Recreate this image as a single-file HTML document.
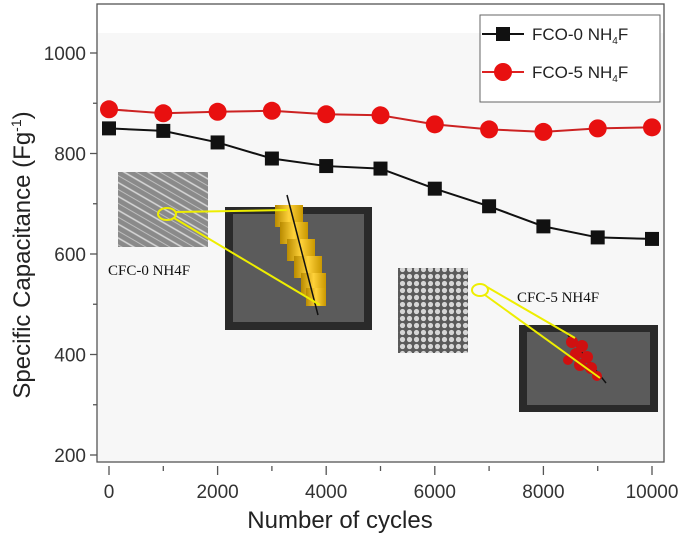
<!DOCTYPE html>
<html><head><meta charset="utf-8"><style>
body{margin:0;background:#fff;}
svg{display:block;font-family:"Liberation Sans",sans-serif;}
</style></head><body>
<svg id="c" width="685" height="534" viewBox="0 0 685 534">
<defs>
<pattern id="fib" width="12" height="12" patternUnits="userSpaceOnUse" patternTransform="rotate(30)">
<rect width="12" height="12" fill="#8a8a8a"/><line x1="0" y1="3" x2="12" y2="3" stroke="#d8d8d8" stroke-width="1.5"/><line x1="0" y1="9" x2="12" y2="9" stroke="#bdbdbd" stroke-width="1"/>
</pattern>
<pattern id="par" width="7" height="7" patternUnits="userSpaceOnUse">
<rect width="7" height="7" fill="#5a5a5a"/><circle cx="3.5" cy="3.5" r="2.6" fill="#d6d6d6"/>
</pattern>
<linearGradient id="gold" x1="0" x2="1"><stop offset="0" stop-color="#b88a00"/><stop offset=".5" stop-color="#ffd23a"/><stop offset="1" stop-color="#c99700"/></linearGradient>
</defs>
<rect x="97" y="33" width="567" height="429" fill="#f7f7f7"/>
<rect x="97" y="4" width="567" height="458" fill="none" stroke="#555" stroke-width="1.3"/>
<g id="axes"></g>
<g id="insets">
<rect x="118" y="172" width="90" height="75" fill="url(#fib)"/>
<polygon points="225,207 372,207 372,330 225,330" fill="#2a2a2a"/>
<polygon points="233,214 364,214 364,322 233,322" fill="#5b5b5b"/>
<g>
<rect x="275" y="205" width="28" height="22" fill="url(#gold)"/><rect x="280" y="222" width="28" height="22" fill="url(#gold)"/><rect x="287" y="239" width="28" height="22" fill="url(#gold)"/><rect x="294" y="256" width="28" height="22" fill="url(#gold)"/><rect x="301" y="273" width="25" height="22" fill="url(#gold)"/><rect x="306" y="288" width="20" height="18" fill="url(#gold)"/>
</g>
<line x1="287" y1="195" x2="318" y2="315" stroke="#111" stroke-width="1.5"/>
<ellipse cx="167" cy="214" rx="9" ry="6" fill="none" stroke="#ee0" stroke-width="2"/>
<line x1="176" y1="212" x2="287" y2="210" stroke="#ee0" stroke-width="2"/><line x1="174" y1="218" x2="320" y2="305" stroke="#ee0" stroke-width="2"/>
<text x="108" y="275" font-family="Liberation Serif,serif" font-size="15" fill="#111">CFC-0 NH4F</text>
<rect x="398" y="268" width="70" height="85" fill="url(#par)"/>
<polygon points="519,325 658,325 658,412 519,412" fill="#2a2a2a"/>
<polygon points="527,332 650,332 650,405 527,405" fill="#5b5b5b"/>
<line x1="568" y1="335" x2="606" y2="383" stroke="#111" stroke-width="1.5"/>
<g fill="#d01010">
<circle cx="572" cy="342" r="6"/><circle cx="582" cy="346" r="6"/><circle cx="576" cy="354" r="6"/><circle cx="587" cy="357" r="6"/><circle cx="580" cy="365" r="6"/><circle cx="591" cy="368" r="6"/><circle cx="597" cy="376" r="5"/><circle cx="568" cy="360" r="5"/>
</g>
<ellipse cx="480" cy="290" rx="8" ry="6" fill="none" stroke="#ee0" stroke-width="2"/>
<line x1="487" y1="287" x2="575" y2="338" stroke="#ee0" stroke-width="2"/><line x1="485" y1="295" x2="600" y2="378" stroke="#ee0" stroke-width="2"/>
<text x="517" y="302" font-family="Liberation Serif,serif" font-size="15" fill="#111">CFC-5 NH4F</text>
</g>
<g id="series"></g>
<g>
<rect x="480" y="15" width="180" height="87" fill="#fff" stroke="#666" stroke-width="1"/>
<g>
<line x1="482" y1="34" x2="524" y2="34" stroke="#111" stroke-width="2"/><rect x="496" y="27" width="14" height="14" fill="#111"/>
<text x="532" y="40" font-size="17" fill="#222">FCO-0 NH<tspan font-size="10" dy="4">4</tspan><tspan dy="-4">F</tspan></text></g>
<g>
<line x1="482" y1="72" x2="524" y2="72" stroke="#d22" stroke-width="2"/><circle cx="503" cy="72" r="9" fill="#e81010"/>
<text x="532" y="78" font-size="17" fill="#222">FCO-5 NH<tspan font-size="10" dy="4">4</tspan><tspan dy="-4">F</tspan></text></g>
</g>
<text x="340" y="528" font-size="24" text-anchor="middle" fill="#222">Number of cycles</text>
<text transform="translate(30,255) rotate(-90)" font-size="24" text-anchor="middle" fill="#222">Specific Capacitance (Fg<tspan font-size="14" dy="-9">-1</tspan><tspan dy="9">)</tspan></text>
</svg>
<script>
const cycles=[0,1000,2000,3000,4000,5000,6000,7000,8000,9000,10000];
const fco0=[850,845,822,790,775,770,730,695,655,633,630];
const fco5=[888,880,883,885,878,876,858,848,843,850,852];
const xTicks=[0,2000,4000,6000,8000,10000];
const yTicks=[200,400,600,800,1000];
const NS="http://www.w3.org/2000/svg";
function X(v){return 109+v*0.0543;}
function Y(v){return 455-(v-200)*0.5025;}
function mk(t,a,p){const e=document.createElementNS(NS,t);for(const k in a)e.setAttribute(k,a[k]);p.appendChild(e);return e;}
const ax=document.getElementById('axes');
for(let v=0;v<=10000;v+=1000){mk('line',{x1:X(v),y1:466,x2:X(v),y2:v%2000?471:475,stroke:'#555','stroke-width':1.3},ax);}
xTicks.forEach(v=>{const t=mk('text',{x:X(v),y:498,'font-size':19,'text-anchor':'middle',fill:'#333'},ax);t.textContent=v;

});
for(let v=200;v<=1000;v+=100){mk('line',{x1:97,y1:Y(v),x2:v%200?93:90,y2:Y(v),stroke:'#555','stroke-width':1.3},ax);}
yTicks.forEach(v=>{const t=mk('text',{x:86,y:Y(v)+7,'font-size':19,'text-anchor':'end',fill:'#333'},ax);t.textContent=v;

});
const sg=document.getElementById('series');
function series(vals,color,sq,name){
const g=mk('g',{},sg);


mk('polyline',{points:vals.map((v,i)=>X(cycles[i])+','+Y(v)).join(' '),fill:'none',stroke:color,'stroke-width':2},g);
vals.forEach((v,i)=>{let m;
if(sq)m=mk('rect',{x:X(cycles[i])-7,y:Y(v)-7,width:14,height:14,fill:'#111'},g);
else m=mk('circle',{cx:X(cycles[i]),cy:Y(v),r:9,fill:'#e81010'},g);

});
}
series(fco0,'#111',true,'series-fco0');
series(fco5,'#c22',false,'series-fco5');
</script>
</body></html>
